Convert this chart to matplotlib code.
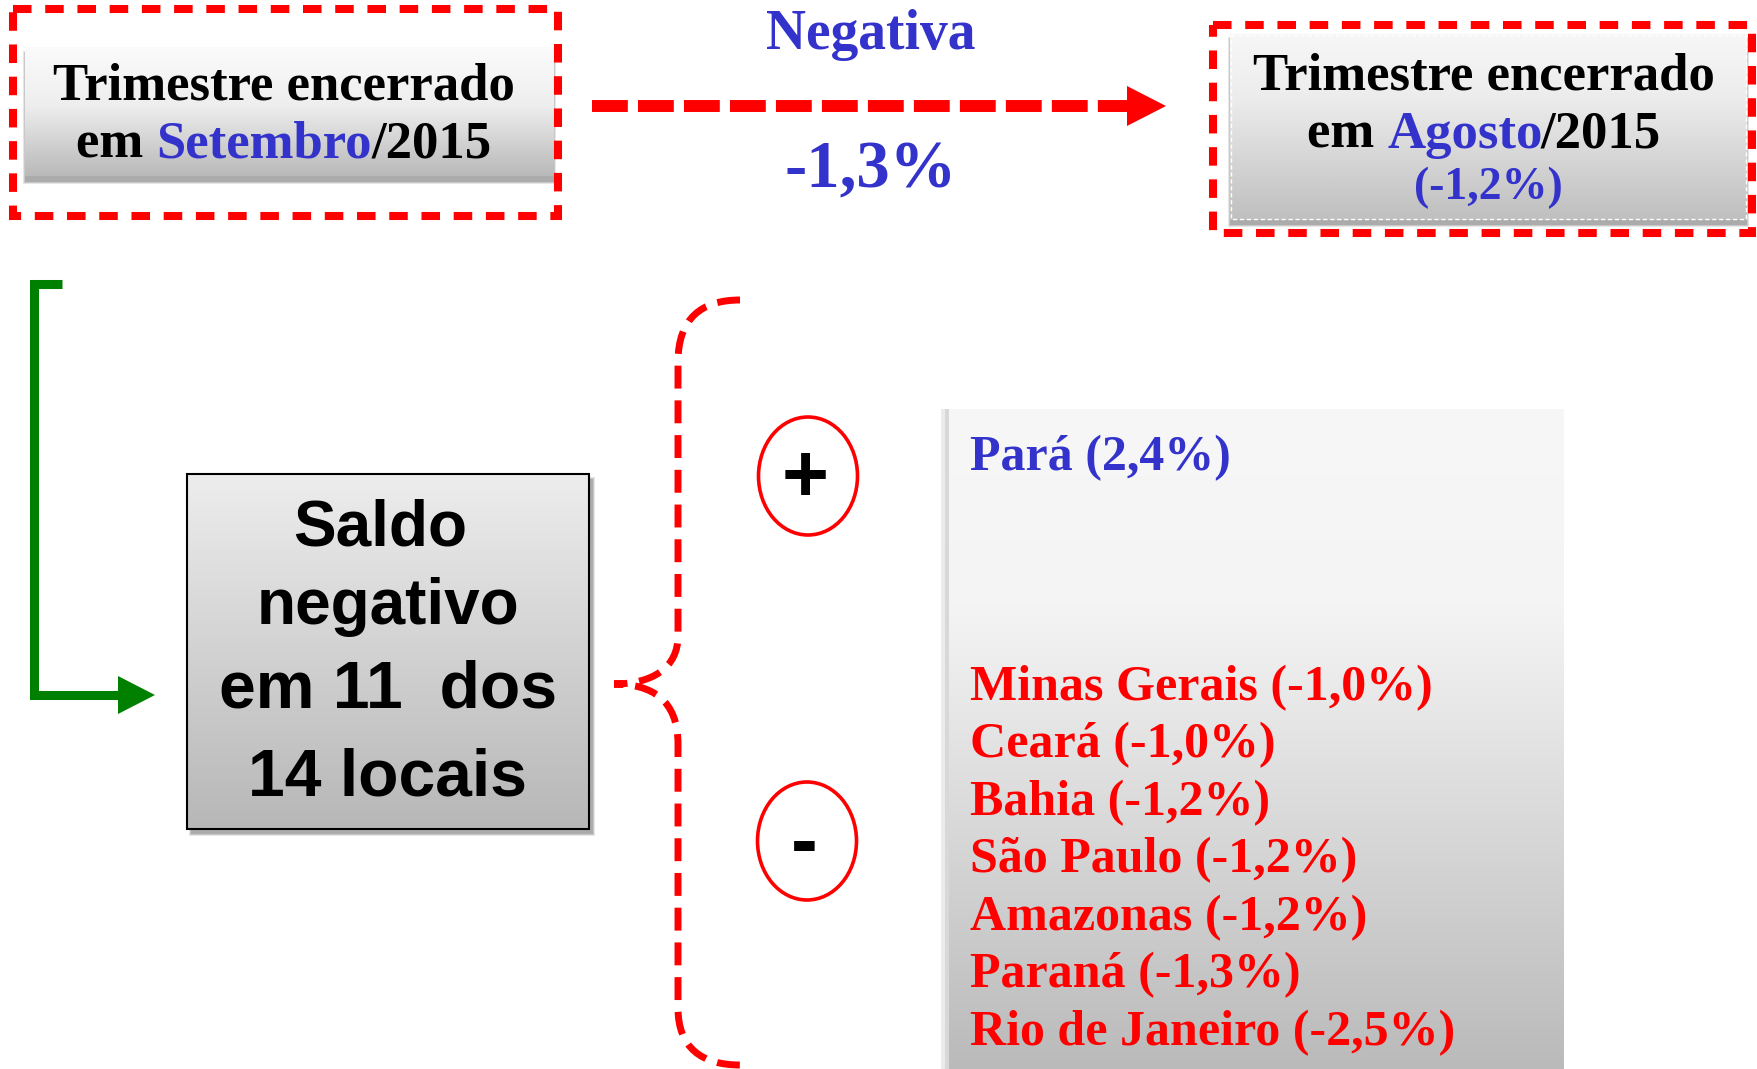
import numpy as np
import matplotlib.pyplot as plt
from matplotlib.patches import Rectangle, Ellipse, Polygon, PathPatch
from matplotlib.path import Path
from matplotlib.colors import LinearSegmentedColormap

# --- data -------------------------------------------------------------
current_month = "Setembro"
previous_month = "Agosto"
year = 2015
headline_label = "Negativa"
headline_change = -1.3
previous_change = -1.2
n_negative = 11
n_total = 14

pos_states = ["Pará"]
pos_values = [2.4]
neg_states = ["Minas Gerais", "Ceará", "Bahia", "São Paulo",
              "Amazonas", "Paraná", "Rio de Janeiro"]
neg_values = [-1.0, -1.0, -1.2, -1.2, -1.2, -1.3, -2.5]

RED = "#ff0000"
BLUE = "#3333cc"
GREEN = "#008000"
SERIF = ["Liberation Serif", "DejaVu Serif"]
SANS = ["Liberation Sans", "DejaVu Sans"]


def pct(v):
    return f"{v:.1f}".replace(".", ",") + "%"


W, H = 1758, 1069
fig = plt.figure(figsize=(W / 100, H / 100), dpi=100)
ax = fig.add_axes([0, 0, 1, 1])
ax.axis("off")
renderer = fig.canvas.get_renderer()


def gradient_box(x0, y0, x1, y1, stops, z=1):
    cmap = LinearSegmentedColormap.from_list("g", stops)
    grad = np.linspace(0, 1, 256).reshape(-1, 1)
    ax.imshow(grad, cmap=cmap, extent=(x0, x1, y1, y0), origin="upper",
              aspect="auto", zorder=z, interpolation="bilinear")


def shadow(x0, y0, x1, y1, dx, dy, z=0.5):
    for k, a in enumerate([0.10, 0.12, 0.15]):
        ax.add_patch(Rectangle((x0 + dx - 2 + k, y0 + dy - 2 + k),
                               x1 - x0 + 4 - 2 * k, y1 - y0 + 4 - 2 * k,
                               facecolor="black", edgecolor="none",
                               alpha=a, zorder=z))


def text_width(s, size, family):
    t = ax.text(0, 0, s + "|", fontsize=size, fontweight="bold", family=family)
    t2 = ax.text(0, 0, "|", fontsize=size, fontweight="bold", family=family)
    w = t.get_window_extent(renderer).width - t2.get_window_extent(renderer).width
    t.remove()
    t2.remove()
    return w


def mixed_line(parts, xc, y, size, family=SERIF):
    full = "".join(p for p, _ in parts)
    total = text_width(full, size, family)
    x = xc - total / 2
    prefix = ""
    for s, c in parts:
        off = text_width(prefix, size, family) if prefix else 0
        ax.text(x + off, y, s, color=c, fontsize=size, fontweight="bold",
                family=family, ha="left", va="center", zorder=5)
        prefix += s


# --- top-left box -----------------------------------------------------
shadow(25, 47, 554, 176, 0, 6)
gradient_box(25, 47, 554, 176, [(0, "#fbfbfb"), (0.45, "#eeeeee"), (1, "#b9b9b9")])
ax.add_patch(Rectangle((13, 9), 545, 207, fill=False, edgecolor=RED,
                       lw=5.8, linestyle=(0, (2.3, 1.7)), zorder=4))
mixed_line([("Trimestre encerrado", "black")], 284, 86, 38)
mixed_line([("em ", "black"), (current_month, BLUE), (f"/{year}", "black")], 284, 144, 38)

# --- arrow between the quarters ---------------------------------------
ax.plot([592, 1128], [106, 106], color=RED, lw=8.6, linestyle=(0, (3.0, 0.85)),
        solid_capstyle="butt", dash_capstyle="butt", zorder=4)
ax.add_patch(Polygon([(1127, 86), (1127, 126), (1166, 106)], closed=True,
                     facecolor=RED, edgecolor="none", zorder=4))
ax.text(871, 35, headline_label, color=BLUE, fontsize=40, fontweight="bold",
        family=SERIF, ha="center", va="center")
ax.text(871, 171, pct(headline_change), color=BLUE, fontsize=48, fontweight="bold",
        family=SERIF, ha="center", va="center")

# --- top-right box ----------------------------------------------------
shadow(1230, 34, 1747, 220, 0, 5)
gradient_box(1230, 34, 1747, 220, [(0, "#f7f7f7"), (0.35, "#ececec"), (1, "#bfbfbf")])
ax.add_patch(Rectangle((1231, 35), 515, 184, fill=False, edgecolor="white",
                       lw=1.0, linestyle=(0, (3, 2)), zorder=3))
ax.add_patch(Rectangle((1213, 25), 539, 208, fill=False, edgecolor=RED,
                       lw=5.8, linestyle=(0, (2.3, 1.7)), zorder=4))
mixed_line([("Trimestre encerrado", "black")], 1484, 77, 38)
mixed_line([("em ", "black"), (previous_month, BLUE), (f"/{year}", "black")], 1484, 135, 38)
mixed_line([(f"({pct(previous_change)})", BLUE)], 1488, 188, 33)

# --- green connector --------------------------------------------------
ax.plot([62, 34, 34, 122], [284, 284, 695, 695], color=GREEN, lw=6.5,
        solid_joinstyle="miter", solid_capstyle="butt", zorder=3)
ax.add_patch(Polygon([(118, 676), (118, 714), (155, 695)], closed=True,
                     facecolor=GREEN, edgecolor="none", zorder=3))

# --- saldo box --------------------------------------------------------
shadow(187, 474, 589, 829, 4, 5)
gradient_box(187, 474, 589, 829, [(0, "#ededed"), (1, "#b7b7b7")])
ax.add_patch(Rectangle((187, 474), 402, 355, fill=False, edgecolor="black",
                       lw=1.5, zorder=3))
saldo_lines = ["Saldo", "negativo", f"em {n_negative}  dos", f"{n_total} locais"]
for s, xx, yy, fs in zip(saldo_lines, [380, 388, 388, 388], [529, 607, 691, 779],
                         [46, 46, 47.5, 47.5]):
    ax.text(xx, yy, s, fontsize=fs, fontweight="bold", family=SANS,
            ha="center", va="center", zorder=5)

# --- brace ------------------------------------------------------------
verts = [(740, 300), (702, 300), (678, 318), (678, 362),
         (678, 636),
         (678, 668), (652, 684), (614, 684),
         (652, 684), (678, 700), (678, 744),
         (678, 1008),
         (678, 1048), (702, 1065), (740, 1065)]
codes = [Path.MOVETO, Path.CURVE4, Path.CURVE4, Path.CURVE4,
         Path.LINETO,
         Path.CURVE4, Path.CURVE4, Path.CURVE4,
         Path.CURVE4, Path.CURVE4, Path.CURVE4,
         Path.LINETO,
         Path.CURVE4, Path.CURVE4, Path.CURVE4]
ax.add_patch(PathPatch(Path(verts, codes), fill=False, edgecolor=RED, lw=5,
                       linestyle=(0, (3.3, 1.7)), zorder=3))

# --- plus / minus markers ---------------------------------------------
for (cx, cy), sign, dy in [((808, 476), "+", 4), ((807, 841), "-", 5)]:
    ax.add_patch(Ellipse((cx, cy), 99, 118, fill=False, edgecolor=RED,
                         lw=2.6, zorder=3))
    ax.text(cx - 3, cy + dy, sign, fontsize=58, fontweight="bold", family=SANS,
            ha="center", va="center", zorder=5)

# --- list of states ---------------------------------------------------
ax.add_patch(Rectangle((941, 409), 10, 660, facecolor="black", edgecolor="none",
                       alpha=0.08, zorder=0.5))
ax.add_patch(Rectangle((945, 409), 6, 660, facecolor="black", edgecolor="none",
                       alpha=0.08, zorder=0.5))
gradient_box(949, 409, 1564, 1069, [(0, "#f7f7f7"), (0.3, "#f4f4f4"), (1, "#bababa")])
for s, v, yy in zip(pos_states, pos_values, [458]):
    ax.text(970, yy, f"{s} ({pct(v)})", color=BLUE, fontsize=36, fontweight="bold",
            family=SERIF, ha="left", va="center", zorder=5)
for i, (s, v) in enumerate(zip(neg_states, neg_values)):
    ax.text(970, 688 + i * 57.5, f"{s} ({pct(v)})", color=RED, fontsize=36,
            fontweight="bold", family=SERIF, ha="left", va="center", zorder=5)

ax.set_xlim(0, W)
ax.set_ylim(H, 0)
fig.savefig("out.png", dpi=100, facecolor="white")
